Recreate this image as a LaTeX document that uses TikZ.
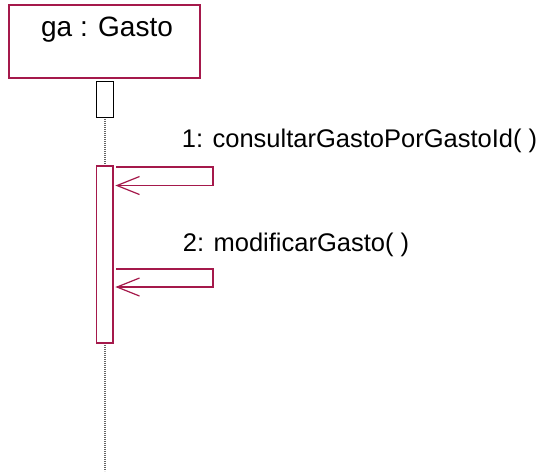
\documentclass[tikz,border=0pt]{standalone}
\usepackage{fontspec}
\setmainfont{Liberation Sans}
\definecolor{umlred}{RGB}{165,25,75}
\definecolor{lifegray}{RGB}{100,100,100}
\begin{document}
\begin{tikzpicture}[x=1pt,y=-1pt,
  objbox/.style={draw=umlred,line width=1.2pt,fill=white},
  actbox/.style={draw=umlred,line width=1.2pt,fill=white},
  startbox/.style={draw=black,line width=1pt,fill=white},
  lifeline/.style={draw=lifegray,line width=1.2pt,dash pattern=on 1.2pt off 0.8pt},
  msg/.style={draw=umlred,line width=1.2pt},
  barb/.style={draw=umlred,line width=1.2pt,line join=miter},
  lbl/.style={inner sep=0pt,anchor=base west,font=\fontsize{25.5}{30}\selectfont}
]
\useasboundingbox[fill=white] (0,0) rectangle (545,472);
% lifeline
\coordinate (lltop) at (105,117);
\coordinate (llbot) at (105,471);
\draw[lifeline] (lltop) -- (llbot);
% object box
\draw[objbox] (9,5) rectangle (200,78);
\node[inner sep=0pt,anchor=base,font=\fontsize{28}{32}\selectfont] (title) at (107,36.7) {ga : Gasto};
% small start box
\draw[startbox] (96.5,81) rectangle (113,117);
% activation
\draw[actbox] (96.5,166) rectangle (113,343);
% message 1
\coordinate (m1a) at (116,167);
\coordinate (m1b) at (213,167);
\coordinate (m1c) at (213,185.5);
\coordinate (m1d) at (117,185.5);
\draw[msg] (m1a) -- (m1b) -- (m1c) -- (m1d);
\draw[barb] (139.5,176.5) -- (m1d) -- (139.5,194.5);
\node[lbl] (l1) at (181.7,147.7) {1: consultarGastoPorGastoId( )};
% message 2
\coordinate (m2a) at (116,269);
\coordinate (m2b) at (213,269);
\coordinate (m2c) at (213,287);
\coordinate (m2d) at (117,287);
\draw[msg] (m2a) -- (m2b) -- (m2c) -- (m2d);
\draw[barb] (139.5,278) -- (m2d) -- (139.5,296);
\node[lbl] (l2) at (182.7,251.5) {2: modificarGasto( )};
\end{tikzpicture}
\end{document}
